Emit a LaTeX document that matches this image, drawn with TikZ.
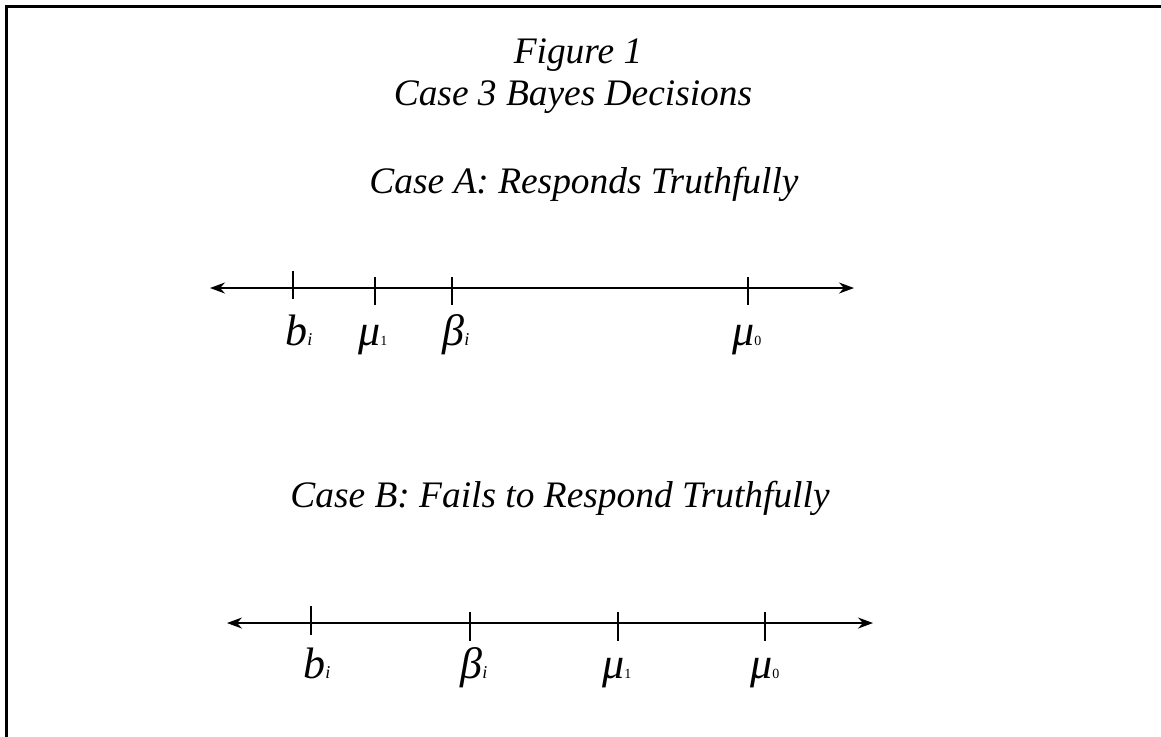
\documentclass[tikz,border=0pt]{standalone}
\usepackage{fontspec}
\setmainfont{Liberation Serif}
\usetikzlibrary{arrows.meta}
\tikzset{
  frame/.style={line width=1.6pt, line cap=rect},
  numline/.style={line width=0.55pt, {Stealth[length=7.5pt,width=5.5pt]}-{Stealth[length=7.5pt,width=5.5pt]}},
  tick/.style={line width=0.55pt},
  title/.style={anchor=base, inner sep=0pt, font=\fontsize{18.7}{20}\selectfont\itshape},
  lab/.style={anchor=base west, inner sep=0pt, font=\fontsize{22}{22}\selectfont\itshape},
}
\newcommand{\subi}{{\fontsize{9}{9}\selectfont\itshape i}}
\newcommand{\subd}[1]{{\fontsize{7}{7}\selectfont\upshape #1}}
\begin{document}
\begin{tikzpicture}[x=0.5pt,y=-0.5pt]
\useasboundingbox (0,0) rectangle (1161,736);
% frame (top and left only)
\draw[frame] (6.5,736) -- (6.5,6.5) -- (1161,6.5);
% titles
\node[title] (fig) at (578,63) {Figure 1};
\node[title] (case3) at (573,105) {Case 3 Bayes Decisions};
\node[title] (caseA) at (584,193) {Case A: Responds Truthfully};
\node[title] (caseB) at (560,507) {Case B: Fails to Respond Truthfully};
% number line A
\coordinate (A0) at (210,288);
\coordinate (A1) at (854,288);
\draw[numline] (A0) -- (A1);
\draw[tick] (293,271) -- (293,299);
\draw[tick] (375,277) -- (375,305);
\draw[tick] (452,277) -- (452,305);
\draw[tick] (748,277) -- (748,305);
\node[lab] (Ab) at (285,345) {b\subi};
\node[lab] (Amu1) at (358,345) {μ\subd{1}};
\node[lab] (Abeta) at (442,345) {β\subi};
\node[lab] (Amu0) at (732,345) {μ\subd{0}};
% number line B
\coordinate (B0) at (227,623);
\coordinate (B1) at (873,623);
\draw[numline] (B0) -- (B1);
\draw[tick] (311,606) -- (311,635);
\draw[tick] (470,612) -- (470,641);
\draw[tick] (618,612) -- (618,641);
\draw[tick] (765,612) -- (765,641);
\node[lab] (Bb) at (303,678) {b\subi};
\node[lab] (Bbeta) at (460,678) {β\subi};
\node[lab] (Bmu1) at (602,678) {μ\subd{1}};
\node[lab] (Bmu0) at (750,678) {μ\subd{0}};
\end{tikzpicture}
\end{document}
